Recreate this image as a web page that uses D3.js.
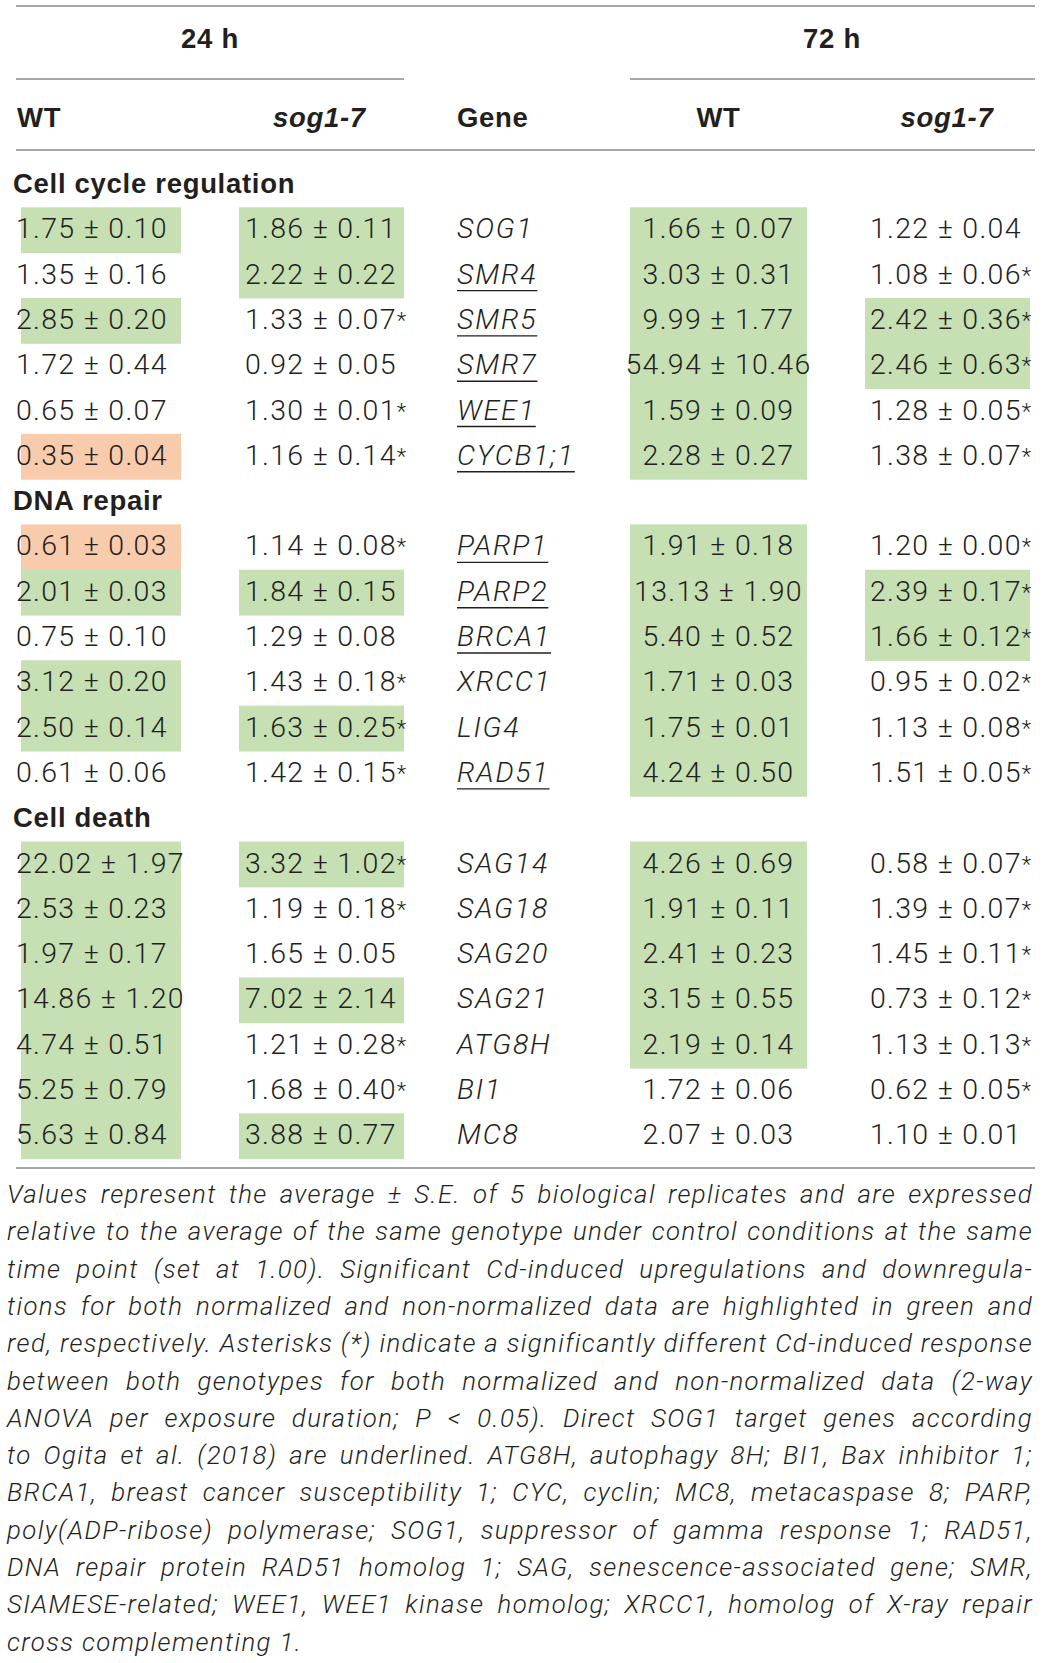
<!DOCTYPE html>
<html>
<head>
<meta charset="utf-8">
<script src="https://cdn.jsdelivr.net/npm/d3@7"></script>
<style>
  body { margin: 0; background: #fff; }
  svg { display: block; }
</style>
</head>
<body>
<svg id="chart" width="1043" height="1663"></svg>
<script>
// ---- data ----
const sections = ["Cell cycle regulation", "DNA repair", "Cell death"];
const genes = ["SOG1", "SMR4", "SMR5", "SMR7", "WEE1", "CYCB1;1",
               "PARP1", "PARP2", "BRCA1", "XRCC1", "LIG4", "RAD51",
               "SAG14", "SAG18", "SAG20", "SAG21", "ATG8H", "BI1", "MC8"];
const geneSection = [0,0,0,0,0,0, 1,1,1,1,1,1, 2,2,2,2,2,2,2];
const underlined = ["SMR4", "SMR5", "SMR7", "WEE1", "CYCB1;1", "PARP1", "PARP2", "BRCA1", "RAD51"];

const wt24Mean  = [1.75, 1.35, 2.85, 1.72, 0.65, 0.35, 0.61, 2.01, 0.75, 3.12, 2.50, 0.61, 22.02, 2.53, 1.97, 14.86, 4.74, 5.25, 5.63];
const wt24SE    = [0.10, 0.16, 0.20, 0.44, 0.07, 0.04, 0.03, 0.03, 0.10, 0.20, 0.14, 0.06, 1.97, 0.23, 0.17, 1.20, 0.51, 0.79, 0.84];
const wt24Hl    = ["G","","G","","","R", "R","G","","G","G","", "G","G","G","G","G","G","G"];

const sog24Mean = [1.86, 2.22, 1.33, 0.92, 1.30, 1.16, 1.14, 1.84, 1.29, 1.43, 1.63, 1.42, 3.32, 1.19, 1.65, 7.02, 1.21, 1.68, 3.88];
const sog24SE   = [0.11, 0.22, 0.07, 0.05, 0.01, 0.14, 0.08, 0.15, 0.08, 0.18, 0.25, 0.15, 1.02, 0.18, 0.05, 2.14, 0.28, 0.40, 0.77];
const sog24Star = [0,0,1,0,1,1, 1,0,0,1,1,1, 1,1,0,0,1,1,0];
const sog24Hl   = ["G","G","","","","", "","G","","","G","", "G","","","G","","","G"];

const wt72Mean  = [1.66, 3.03, 9.99, 54.94, 1.59, 2.28, 1.91, 13.13, 5.40, 1.71, 1.75, 4.24, 4.26, 1.91, 2.41, 3.15, 2.19, 1.72, 2.07];
const wt72SE    = [0.07, 0.31, 1.77, 10.46, 0.09, 0.27, 0.18, 1.90, 0.52, 0.03, 0.01, 0.50, 0.69, 0.11, 0.23, 0.55, 0.14, 0.06, 0.03];
const wt72Hl    = ["G","G","G","G","G","G", "G","G","G","G","G","G", "G","G","G","G","G","",""];

const sog72Mean = [1.22, 1.08, 2.42, 2.46, 1.28, 1.38, 1.20, 2.39, 1.66, 0.95, 1.13, 1.51, 0.58, 1.39, 1.45, 0.73, 1.13, 0.62, 1.10];
const sog72SE   = [0.04, 0.06, 0.36, 0.63, 0.05, 0.07, 0.00, 0.17, 0.12, 0.02, 0.08, 0.05, 0.07, 0.07, 0.11, 0.12, 0.13, 0.05, 0.01];
const sog72Star = [0,1,1,1,1,1, 1,1,1,1,1,1, 1,1,1,1,1,1,0];
const sog72Hl   = ["","","G","G","","", "","G","G","","","", "","","","","","",""];

const captionLines = [
  "Values represent the average ± S.E. of 5 biological replicates and are expressed",
  "relative to the average of the same genotype under control conditions at the same",
  "time point (set at 1.00). Significant Cd-induced upregulations and downregula-",
  "tions for both normalized and non-normalized data are highlighted in green and",
  "red, respectively. Asterisks (*) indicate a significantly different Cd-induced response",
  "between both genotypes for both normalized and non-normalized data (2-way",
  "ANOVA per exposure duration; P < 0.05). Direct SOG1 target genes according",
  "to Ogita et al. (2018) are underlined. ATG8H, autophagy 8H; BI1, Bax inhibitor 1;",
  "BRCA1, breast cancer susceptibility 1; CYC, cyclin; MC8, metacaspase 8; PARP,",
  "poly(ADP-ribose) polymerase; SOG1, suppressor of gamma response 1; RAD51,",
  "DNA repair protein RAD51 homolog 1; SAG, senescence-associated gene; SMR,",
  "SIAMESE-related; WEE1, WEE1 kinase homolog; XRCC1, homolog of X-ray repair",
  "cross complementing 1."
];

// ---- layout ----
const svg = d3.select("#chart");
const ink = "#231f20";
const ruleColor = "#8a8a8a";
const numFont = "Roboto, 'Liberation Sans', sans-serif";
const boldFont = "'Liberation Sans', Arial, sans-serif";
const fill = {G: "#c6e0b4", R: "#f8cbad"};
const fmt = d3.format(".2f");

// every table line: section header or gene row
let lines = [];
genes.forEach((g, i) => {
  if (i == 0 || geneSection[i] != geneSection[i-1]) lines.push({type: "section", name: sections[geneSection[i]]});
  lines.push({type: "gene", i: i});
});
const pitch = 45.3;
const y = d3.scaleLinear().domain([0, lines.length - 1]).range([193, 193 + (lines.length - 1) * pitch]);

const columns = [
  {mean: wt24Mean,  se: wt24SE,  star: null,      hl: wt24Hl,  x: 16,    anchor: "start",  box: [21, 181]},
  {mean: sog24Mean, se: sog24SE, star: sog24Star, hl: sog24Hl, x: 245,   anchor: "start",  box: [239, 404]},
  {mean: wt72Mean,  se: wt72SE,  star: null,      hl: wt72Hl,  x: 718.5, anchor: "middle", box: [630, 807]},
  {mean: sog72Mean, se: sog72SE, star: sog72Star, hl: sog72Hl, x: 870,   anchor: "start",  box: [865, 1030]}
];

// rules
let rule = (x1, x2, yy) => svg.append("line")
  .attr("x1", x1).attr("x2", x2).attr("y1", yy).attr("y2", yy)
  .attr("stroke", ruleColor).attr("stroke-width", 1.3);
rule(16, 1035, 6);
rule(16, 404, 79);
rule(630, 1035, 79);
rule(16, 1035, 150);
rule(16, 1035, 1168);

// header texts
let head = (txt, x, yy, anchor, italic) => svg.append("text")
  .attr("x", x).attr("y", yy)
  .attr("text-anchor", anchor)
  .attr("font-family", boldFont)
  .attr("font-weight", "bold")
  .attr("font-style", italic ? "italic" : "normal")
  .attr("font-size", 27.5)
  .attr("letter-spacing", 0.7)
  .attr("fill", ink)
  .text(txt);
head("24 h", 210, 48, "middle");
head("72 h", 832, 48, "middle");
head("WT", 17, 127, "start");
head("sog1-7", 273, 127, "start", true);
head("Gene", 457, 127, "start");
head("WT", 718.5, 127, "middle");
head("sog1-7", 947, 127, "middle", true);

// highlight boxes
for (let col of columns){
  lines.forEach((ln, k) => {
    if (ln.type != "gene" || !col.hl[ln.i]) return;
    svg.append("rect")
      .attr("x", col.box[0])
      .attr("y", y(k) - 31)
      .attr("width", col.box[1] - col.box[0])
      .attr("height", pitch + 0.6)
      .attr("fill", fill[col.hl[ln.i]]);
  });
}

// rows
lines.forEach((ln, k) => {
  if (ln.type == "section"){
    head(ln.name, 13, y(k), "start");
    return;
  }
  let i = ln.i;
  for (let col of columns){
    let t = svg.append("text")
      .attr("x", col.x).attr("y", y(k))
      .attr("text-anchor", col.anchor)
      .attr("font-family", numFont)
      .attr("font-weight", 300)
      .attr("font-size", 28.5)
      .attr("letter-spacing", 1.3)
      .attr("fill", ink);
    t.append("tspan").text(fmt(col.mean[i]) + " ± " + fmt(col.se[i]));
    if (col.star && col.star[i]) t.append("tspan").attr("font-size", 22).attr("dy", -1).text("*");
  }
  let g = svg.append("text")
    .attr("x", 457).attr("y", y(k))
    .attr("font-family", numFont)
    .attr("font-weight", 300)
    .attr("font-style", "italic")
    .attr("font-size", 28.5)
    .attr("letter-spacing", 1.8)
    .attr("fill", ink)
    .text(genes[i]);
  if (underlined.includes(genes[i])){
    let w = g.node().getComputedTextLength();
    svg.append("line")
      .attr("x1", 457).attr("x2", 457 + w)
      .attr("y1", y(k) + 7).attr("y2", y(k) + 7)
      .attr("stroke", ink).attr("stroke-width", 1.4);
  }
});

// caption, justified
const capLeft = 7, capRight = 1033;
const capY = d3.scaleLinear().domain([0, captionLines.length - 1]).range([1203, 1203 + (captionLines.length - 1) * 37.3]);
let capTexts = captionLines.map((txt, k) => svg.append("text")
    .attr("x", capLeft).attr("y", capY(k))
    .attr("font-family", numFont)
    .attr("font-weight", 300)
    .attr("font-style", "italic")
    .attr("font-size", 25.8)
    .attr("fill", ink)
    .text(txt));
// letter spacing so the tightest justified line fits exactly
let ls = d3.min(capTexts.slice(0, -1), (t, k) =>
  (capRight - capLeft - t.node().getComputedTextLength()) / captionLines[k].length);
capTexts.forEach((t, k) => {
  t.attr("letter-spacing", ls);
  if (k < captionLines.length - 1){
    let w = t.node().getComputedTextLength();
    let gaps = captionLines[k].split(" ").length - 1;
    t.style("word-spacing", ((capRight - capLeft - w) / gaps) + "px");
  }
});
</script>
</body>
</html>
